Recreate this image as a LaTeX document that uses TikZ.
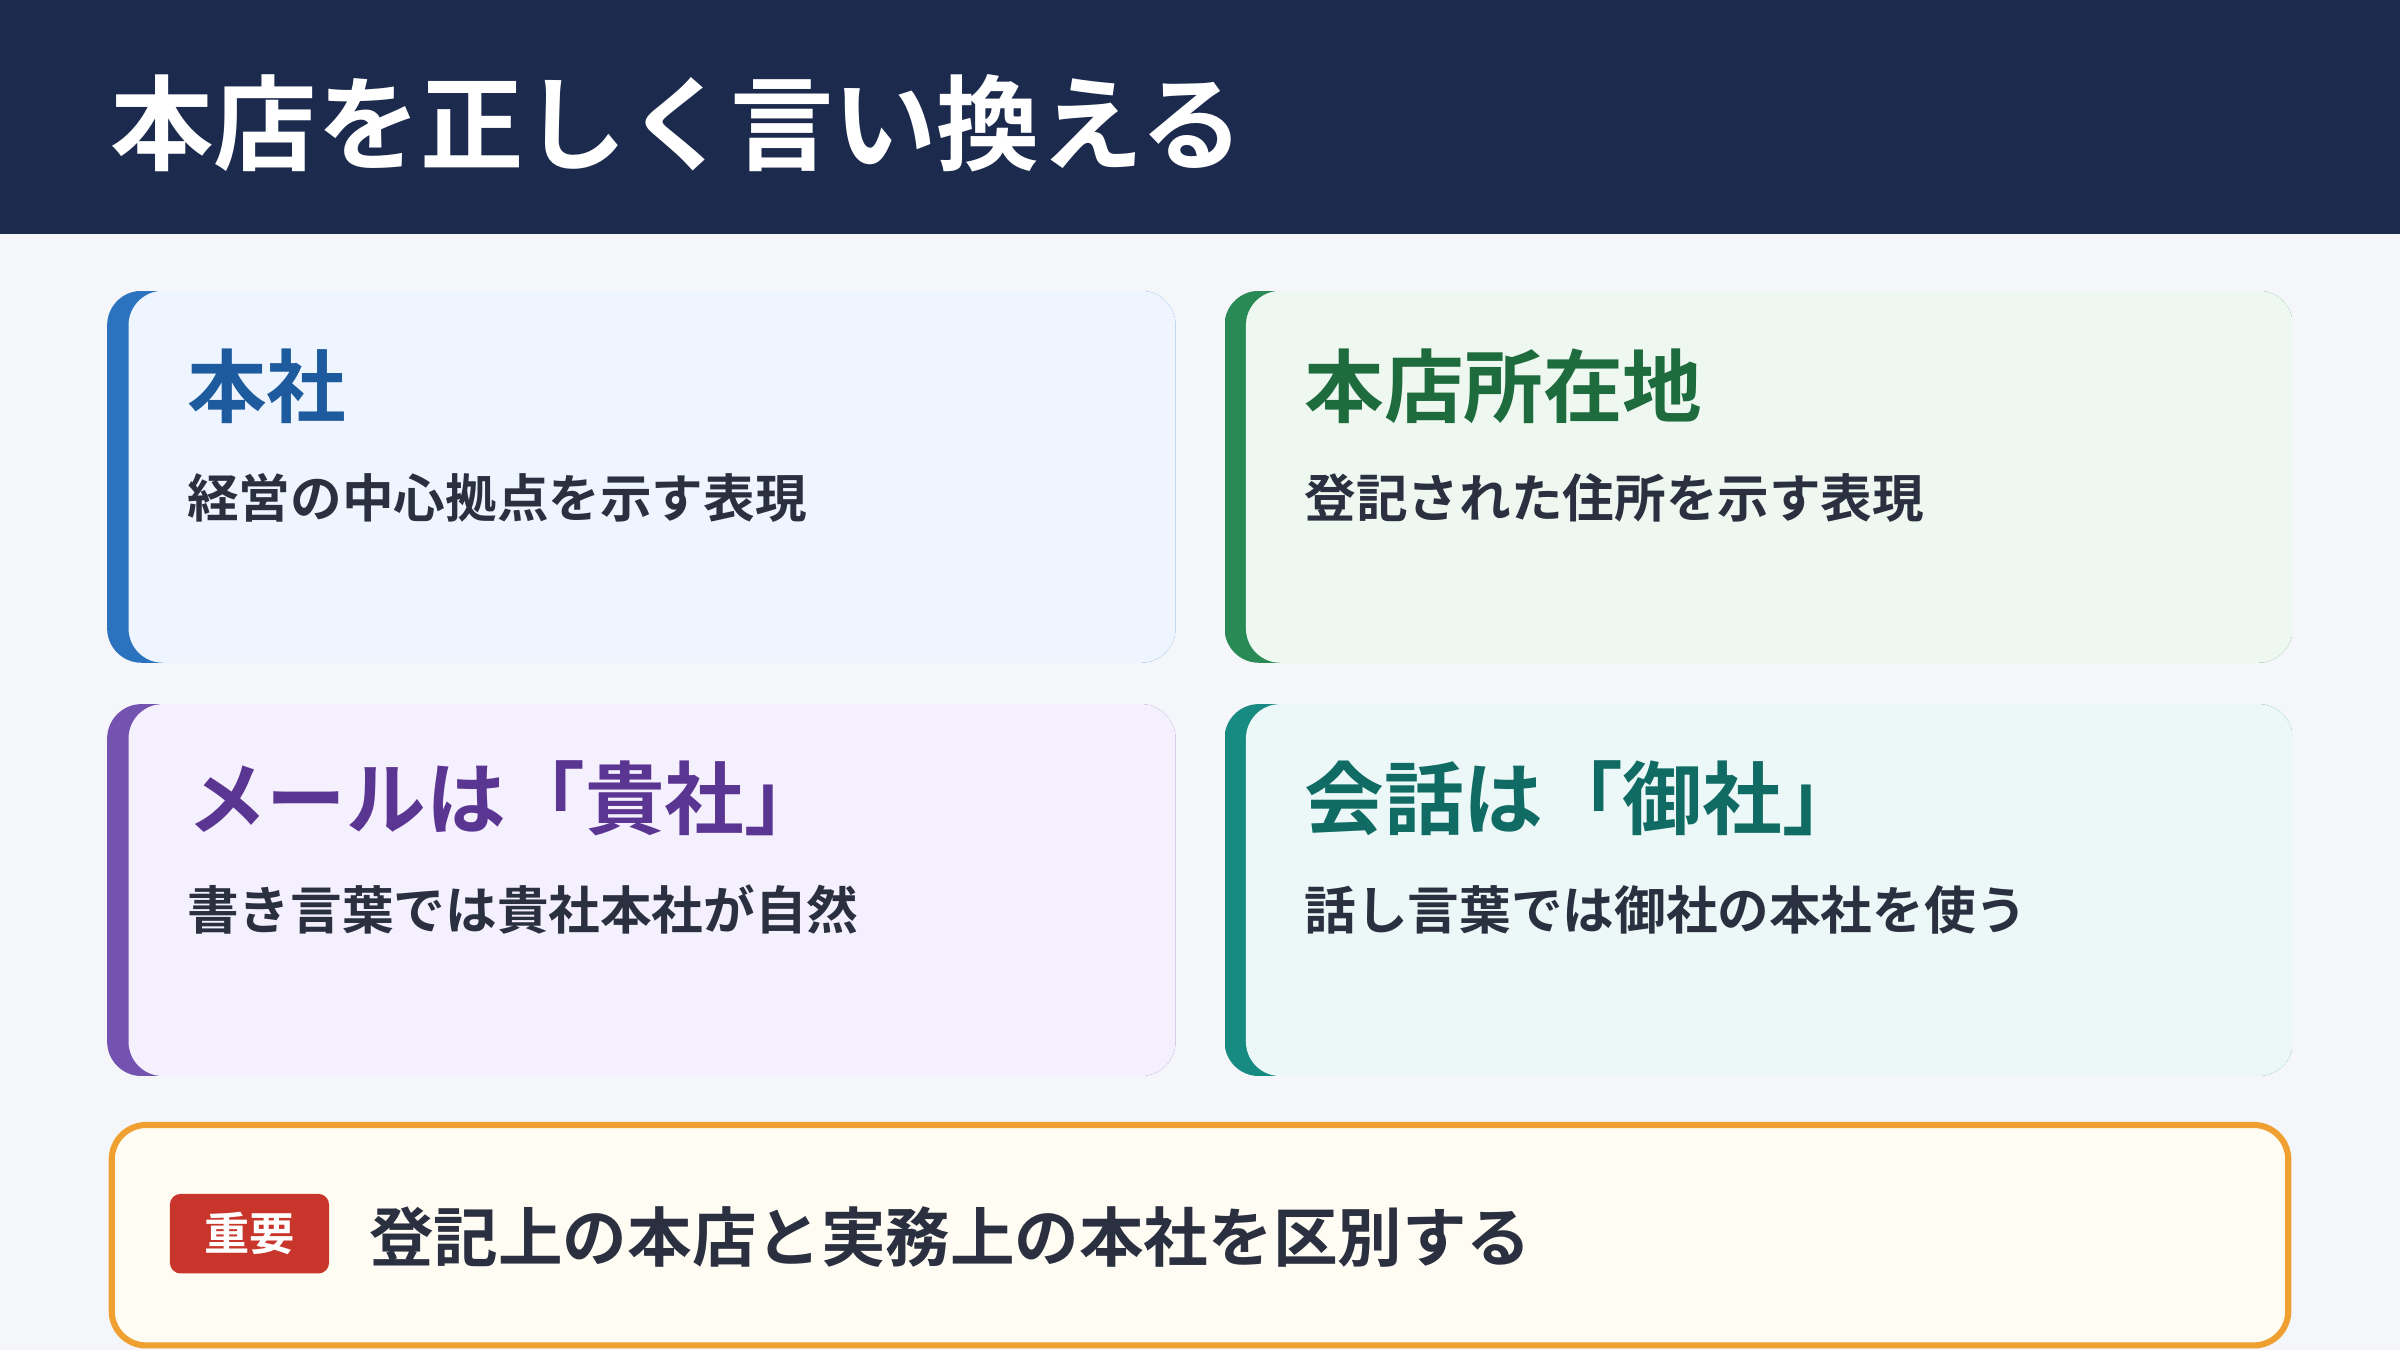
\documentclass[tikz,border=0pt]{standalone}
\usepackage{fontspec}
\newfontfamily\jp{Noto Sans CJK JP}[BoldFont={* Bold}]
\definecolor{hdr}{HTML}{1C2B4D}
\definecolor{bg}{HTML}{F4F6FA}
\definecolor{txt}{HTML}{2A3040}
\definecolor{fillB}{HTML}{EEF5FE}\definecolor{accB}{HTML}{2B73BE}\definecolor{headB}{HTML}{1D5A9E}
\definecolor{fillG}{HTML}{EEF8F0}\definecolor{accG}{HTML}{2A8A56}\definecolor{headG}{HTML}{1E6B3E}
\definecolor{fillP}{HTML}{F4F0FD}\definecolor{accP}{HTML}{7452B0}\definecolor{headP}{HTML}{5B3592}
\definecolor{fillT}{HTML}{ECF8F7}\definecolor{accT}{HTML}{178A82}\definecolor{headT}{HTML}{0F6B63}
\definecolor{org}{HTML}{F0A030}\definecolor{ofill}{HTML}{FFFCF3}\definecolor{bred}{HTML}{C8352B}
\tikzset{
 head/.style={anchor=base west,inner sep=0,font=\jp\bfseries\fontsize{37pt}{40pt}\selectfont},
 body/.style={anchor=base west,inner sep=0,text=txt,font=\jp\bfseries\fontsize{24pt}{28pt}\selectfont}
}
\begin{document}
\begin{tikzpicture}[x=0.25mm,y=-0.25mm]
\useasboundingbox (0,0) rectangle (1568,882);
\fill[bg] (0,0) rectangle (1568,882);
\fill[hdr] (0,0) rectangle (1568,153);
\node[anchor=base west,inner sep=0,text=white,font=\jp\bfseries\fontsize{48pt}{52pt}\selectfont] (title) at (72,106) {本店を正しく言い換える};
\foreach \x/\y/\f/\a in {70/190/fillB/accB,800/190/fillG/accG,70/460/fillP/accP,800/460/fillT/accT}{
 \begin{scope}
 \clip[rounded corners=16] (\x,\y) rectangle ++(698,243);
 \fill[fill=\a] (\x,\y) rectangle ++(698,243);
 \fill[fill=\f,rounded corners=16] (\x+14,\y) rectangle ++(700,243);
 \end{scope}}
\node[head,text=headB] (h1) at (122,272) {本社};
\node[body] (b1) at (122,338) {経営の中心拠点を示す表現};
\node[head,text=headG] (h2) at (852,272) {本店所在地};
\node[body] (b2) at (852,338) {登記された住所を示す表現};
\node[head,text=headP] (h3) at (122,541) {メールは「貴社」};
\node[body] (b3) at (122,607) {書き言葉では貴社本社が自然};
\node[head,text=headT] (h4) at (852,541) {会話は「御社」};
\node[body] (b4) at (852,607) {話し言葉では御社の本社を使う};
\draw[org,line width=1mm,fill=ofill,rounded corners=16] (73,735) rectangle (1495,879);
\node[fill=bred,rounded corners=5,minimum width=26mm,minimum height=13mm,inner sep=0,text=white,font=\jp\bfseries\fontsize{21pt}{24pt}\selectfont] (badge) at (163,806) {重要};
\node[anchor=base west,inner sep=0,text=txt,font=\jp\bfseries\fontsize{30pt}{34pt}\selectfont] (imp) at (241,824) {登記上の本店と実務上の本社を区別する};
\end{tikzpicture}
\end{document}
